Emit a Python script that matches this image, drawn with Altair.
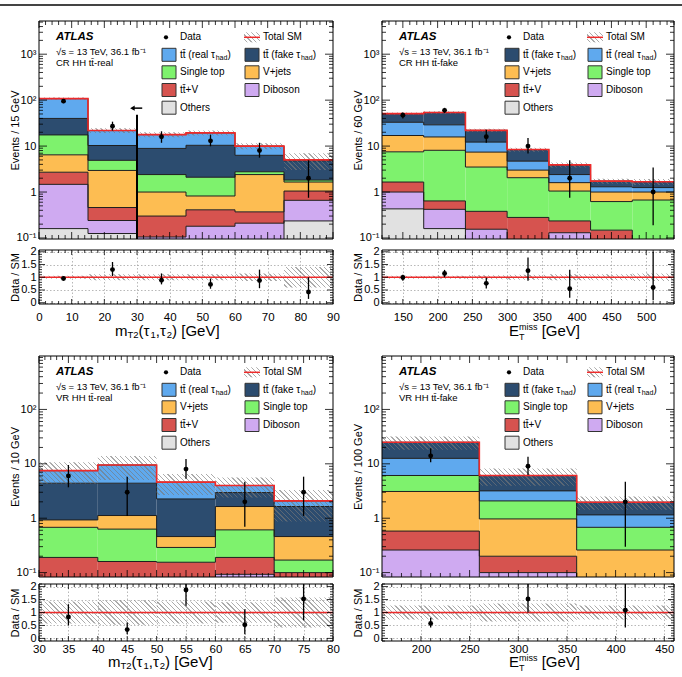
import altair as alt
import numpy as np
import pandas as pd

FONT = "Liberation Sans"
RED = "#ee2a2a"
OUTLINE = "#1e1e1e"
HATCH_ON = "rgba(120,120,120,0.62)"
HATCH_OFF = "rgba(120,120,120,0)"

KEYS = ["ttreal", "ttfake", "singletop", "vjets", "ttv", "diboson", "others"]
COLORS = ["#5fa9ee", "#2c4c6f", "#7ef26d", "#fdbd52", "#d6534f", "#cfaaf1", "#e1e1e1"]
COLOR_MAP = dict(zip(KEYS, COLORS))
LABELS = {
    "ttreal": [("tt\u0304 (real \u03c4", 10, 0), ("had", 7, 3), (")", 10, 0)],
    "ttfake": [("tt\u0304 (fake \u03c4", 10, 0), ("had", 7, 3), (")", 10, 0)],
    "singletop": [("Single top", 10, 0)],
    "vjets": [("V+jets", 10, 0)],
    "ttv": [("tt\u0304+V", 10, 0)],
    "diboson": [("Diboson", 10, 0)],
    "others": [("Others", 10, 0)],
}

# ---------------- Panel A: CR HH tt-real, mT2 ----------------
A_edges = [0, 15, 30, 45, 60, 75, 90]
A_others = [0.16, 0.125, 0.05, 0.05, 0.05, 0.235]
A_diboson = [1.31, 0.115, 0.055, 0.13, 0.16, 0.425]
A_ttv = [1.23, 0.22, 0.195, 0.23, 0.16, 0.39]
A_vjets = [3.75, 2.49, 0.70, 0.41, 2.03, 0.60]
A_singletop = [11.05, 1.95, 1.4, 1.28, 0.36, 0.17]
A_ttfake = [22.5, 5.4, 6.5, 8.3, 3.54, 2.98]
A_ttreal = [68, 11.5, 8.9, 9.0, 3.7, 0.2]
A_data = [95, 27, 16, 13, 8, 2]
A_data_lo = [86, 21.8, 11.8, 9.9, 5.6, 0.75]
A_data_hi = [105, 34, 21, 17.8, 11.8, 4.9]
A_unc = [0.06, 0.12, 0.12, 0.12, 0.15, 0.4]
A_ratio = [0.95, 1.3, 0.88, 0.72, 0.87, 0.42]
A_ratio_lo = [0.88, 1.05, 0.72, 0.55, 0.57, 0.15]
A_ratio_hi = [1.02, 1.6, 1.15, 0.95, 1.3, 1.0]

# ---------------- Panel B: CR HH tt-fake, ETmiss ----------------
B_edges = [120, 180, 240, 300, 360, 420, 480, 540]
B_others = [0.43, 0.16, 0.05, 0.03, 0.03, 0.03, 0.03]
B_diboson = [0.57, 0.26, 0.105, 0.03, 0.10, 0.03, 0.02]
B_ttv = [0.65, 0.22, 0.225, 0.22, 0.105, 0.088, 0.02]
B_singletop = [5.85, 7.46, 3.12, 1.77, 0.815, 0.472, 0.6]
B_vjets = [9.5, 7.7, 3.9, 0.95, 0.55, 0.38, 0.33]
B_ttreal = [16, 13.2, 4.8, 1.7, 0.8, 0.3, 0.25]
B_ttfake = [18, 25, 9.8, 3.7, 1.5, 0.43, 0.43]
B_data = [47, 60, 16, 10, 2, np.nan, 1]
B_data_lo = [40, 53, 11.8, 6.9, 0.75, np.nan, 0.19]
B_data_hi = [54, 68, 22.8, 15, 4.9, np.nan, 3.4]
B_unc = [0.06, 0.06, 0.08, 0.1, 0.12, 0.12, 0.15]
B_ratio = [0.99, 1.15, 0.76, 1.26, 0.55, np.nan, 0.6]
B_ratio_lo = [0.86, 1.0, 0.56, 0.86, 0.2, np.nan, 0.1]
B_ratio_hi = [1.1, 1.29, 0.98, 1.78, 1.29, np.nan, 2.0]

# ---------------- Panel C: VR HH tt-real, mT2 ----------------
C_edges = [30, 40, 50, 60, 70, 80]
C_others = [0.02, 0.02, 0.02, 0.02, 0.02]
C_diboson = [0.01, 0.01, 0.01, 0.073, 0.01]
C_ttv = [0.16, 0.13, 0.125, 0.097, 0.07]
C_singletop = [0.49, 0.47, 0.135, 0.42, 0.07]
C_vjets = [0.25, 0.49, 0.17, 1.03, 0.29]
C_ttfake = [3.47, 3.28, 1.8, 1.32, 1.18]
C_ttreal = [3.1, 5.1, 2.34, 1.04, 0.44]
C_data = [6, 3, 8, 2, 3]
C_data_lo = [3.7, 1.1, 5.3, 0.7, 1.1]
C_data_hi = [9.5, 5.8, 12.3, 4.7, 5.8]
C_unc = [0.42, 0.47, 0.42, 0.4, 0.58]
C_ratio = [0.83, 0.34, 1.87, 0.53, 1.52]
C_ratio_lo = [0.5, 0.16, 1.26, 0.16, 0.7]
C_ratio_hi = [1.32, 0.61, 2.3, 1.13, 2.3]

# ---------------- Panel D: VR HH tt-fake, ETmiss ----------------
D_edges = [160, 260, 360, 460]
D_others = [0.02, 0.02, 0.02]
D_diboson = [0.24, 0.08, 0.01]
D_ttv = [0.32, 0.10, 0.02]
D_vjets = [2.52, 0.77, 0.21]
D_singletop = [3.0, 1.11, 0.42]
D_ttreal = [6.5, 1.1, 0.47]
D_ttfake = [12.3, 2.92, 0.82]
D_data = [14, 9, 2]
D_data_lo = [10.7, 6.2, 0.3]
D_data_hi = [19.3, 13.5, 4.7]
D_unc = [0.27, 0.35, 0.27]
D_ratio = [0.58, 1.52, 1.09]
D_ratio_lo = [0.42, 1.0, 0.42]
D_ratio_hi = [0.8, 2.3, 2.3]

XT_MT2 = [("m", 15, 0, True), ("T2", 9.5, 4, True), ("(\u03c4", 15, 0, True), ("1", 9.5, 4, True),
          (",\u03c4", 15, 0, True), ("2", 9.5, 4, True), (") [GeV]", 15, 0, True)]
XT_MET = [("E", 15, 0, True), ("T", 9, 5.5, False), ("miss", 9, -4, True), (" [GeV]", 15, 0, True)]

ONE = pd.DataFrame({"k": [0]})

CHAR_W = {'a': .556, 'b': .556, 'd': .556, 'e': .556, 'f': .278, 'g': .556, 'h': .556, 'i': .222,
          'k': .5, 'l': .222, 'm': .833, 'n': .556, 'o': .556, 'p': .556, 'r': .333, 's': .5, 't': .278,
          'u': .556, 'v': .5, 'x': .5, 'y': .5, 'A': .667, 'C': .722, 'D': .722, 'E': .667, 'G': .778,
          'H': .722, 'M': .833, 'O': .778, 'R': .722, 'S': .667, 'T': .611, 'V': .667, 'L': .556,
          ' ': .278, '(': .333, ')': .333, '[': .278, ']': .278, ',': .278, '.': .278, '+': .584,
          '-': .333, '/': .278, '=': .584, '\u03c4': .46, '\u0304': 0.0, 'j': .222}


def text_width(s, size):
    return size * sum(CHAR_W.get(ch, 0.556) for ch in s)


def hatch(w, h, period=3.4, lw=0.9):
    """diagonal hatch as a striped linear gradient for a w x h pixel box"""
    w = max(float(w), 1.0)
    h = max(float(h), 1.0)
    k = (w + h) / (w * w + h * h)
    L = w + h
    dt = period * np.sqrt(2) / L
    dl = lw * np.sqrt(2) / L
    stops = [alt.GradientStop(color=HATCH_OFF, offset=0)]
    t = dt / 2
    while t + dl < 1 and len(stops) < 600:
        a, b = round(t, 5), round(t + dl, 5)
        stops += [alt.GradientStop(color=HATCH_OFF, offset=a), alt.GradientStop(color=HATCH_ON, offset=a),
                  alt.GradientStop(color=HATCH_ON, offset=b), alt.GradientStop(color=HATCH_OFF, offset=b)]
        t += dt
    stops.append(alt.GradientStop(color=HATCH_OFF, offset=1))
    return alt.LinearGradient(gradient="linear", stops=stops, x1=0, y1=1,
                              x2=round(k * w, 5), y2=round(1 - k * h, 5))


def vtext(x, y, s, size, weight="normal", style="normal", align="left"):
    return alt.Chart(ONE).mark_text(
        align=align, baseline="middle", fontSize=size, fontWeight=weight, fontStyle=style,
        font=FONT, color="black"
    ).encode(x=alt.value(x), y=alt.value(y), text=alt.value(s))


def vrect(x0, x1, y0, y1, fill, opacity=1.0, stroke="", sw=0):
    kw = dict(fill=fill, opacity=opacity)
    if stroke:
        kw.update(stroke=stroke, strokeWidth=sw)
    return alt.Chart(ONE).mark_rect(**kw).encode(
        x=alt.value(x0), x2=alt.value(x1), y=alt.value(y0), y2=alt.value(y1))


def hrule(x0, x1, y, color, sw):
    return alt.Chart(ONE).mark_rule(color=color, strokeWidth=sw).encode(
        x=alt.value(x0), x2=alt.value(x1), y=alt.value(y))


def pieces(x, y, parts):
    out = []
    cx = x
    for part in parts:
        txt, size, dy = part[0], part[1], part[2]
        adv = part[3] if len(part) > 3 else True
        stripped = txt.lstrip(" ")
        cx += text_width(txt[:len(txt) - len(stripped)], size)
        out.append(vtext(cx, y + dy, stripped, size))
        if adv:
            cx += text_width(stripped, size)
    return out


def frame(W, H):
    return alt.Chart(ONE).mark_rect(fillOpacity=0, stroke="black", strokeWidth=1).encode(
        x=alt.value(0), x2=alt.value(W), y=alt.value(0), y2=alt.value(H))


def tick_layer(vals, scale, axis, orient, L, W, H):
    df = pd.DataFrame({"v": list(vals)})
    if orient in ("left", "right"):
        x0 = 0 if orient == "left" else W - L
        enc = dict(y=alt.Y("v:Q", scale=scale, axis=axis), x=alt.value(x0), x2=alt.value(x0 + L))
    else:
        y0 = H if orient == "bottom" else 0
        y1 = H - L if orient == "bottom" else L
        enc = dict(x=alt.X("v:Q", scale=scale, axis=axis), y=alt.value(y0), y2=alt.value(y1))
    return alt.Chart(df).mark_rule(color="black", strokeWidth=0.8).encode(**enc)


def log_ticks(lo, hi):
    major, minor = [], []
    for e in range(-3, 5):
        for m in range(1, 10):
            v = m * 10.0 ** e
            if lo <= v <= hi:
                (major if m == 1 else minor).append(v)
    return major, minor


def lin_ticks(lo, hi, step):
    k0 = int(np.ceil(lo / step - 1e-9))
    k1 = int(np.floor(hi / step + 1e-9))
    return [round(k * step, 6) for k in range(k0, k1 + 1)]


LEG_ROWS = [16.3, 33.8, 51.3, 69.0, 86.7]
LEG_SYM = [130, 213]
LEG_TXT = [141, 224]


def legend_layers(P):
    L = []
    entries = ["data", "total"] + P["legend"]
    for idx, e in enumerate(entries):
        r, c = divmod(idx, 2)
        y = LEG_ROWS[r]
        xs_ = LEG_SYM[c]
        xt = LEG_TXT[c]
        if e == "data":
            L.append(alt.Chart(ONE).mark_circle(size=18, color="black", opacity=1).encode(
                x=alt.value(xs_ - 3), y=alt.value(y)))
            L.append(vtext(xt, y, "Data", 10))
        elif e == "total":
            L.append(vrect(xs_ - 8, xs_ + 8, y - 5, y + 5, hatch(16, 10)))
            L.append(hrule(xs_ - 8, xs_ + 8, y, RED, 1.5))
            L.append(vtext(xt, y, "Total SM", 10))
        else:
            L.append(vrect(xs_ - 7, xs_ + 7, y - 6.5, y + 6.5, COLOR_MAP[e], stroke="#333333", sw=1))
            L += pieces(xt, y, LABELS[e])
    return L


LOG_LABELS = ("datum.value < 0.5 ? '10\u207b\u00b9' : datum.value < 5 ? '1' : datum.value < 50 ? '10' : "
              "datum.value < 500 ? '10\u00b2' : '10\u00b3'")


def band_layers(edges, lo, hi, X, Y, xdom, W, ypix):
    out = []
    for i in range(len(edges) - 1):
        w = (edges[i + 1] - edges[i]) / (xdom[1] - xdom[0]) * W
        h = ypix(lo[i], hi[i])
        df = pd.DataFrame({"x": [edges[i]], "x2": [edges[i + 1]], "lo": [lo[i]], "hi": [hi[i]]})
        out.append(alt.Chart(df).mark_rect(fill=hatch(w, h), clip=True).encode(
            x=X("x:Q"), x2="x2:Q", y=Y("lo:Q"), y2="hi:Q"))
    return out


def main_chart(P, toprow, right):
    W, H = P["W"], P["H"]
    xs = alt.Scale(domain=P["xdomain"], nice=False, zero=False)
    ys = alt.Scale(type="log", domain=P["ydomain"], nice=False)
    edges = P["edges"]
    n = len(edges) - 1
    rect_rows, line_rows = [], []
    cum = np.zeros(n)
    for key, vals in P["stack"]:
        top = cum + np.asarray(vals, float)
        for i in range(n):
            rect_rows.append({"comp": key, "x": edges[i], "x2": edges[i + 1],
                              "y": max(cum[i], 1e-4), "y2": top[i]})
            line_rows.append({"comp": key, "x": edges[i], "y": top[i]})
        line_rows.append({"comp": key, "x": edges[n], "y": top[n - 1]})
        cum = top
    total = cum

    ymaj, ymin = log_ticks(*P["ydomain"])
    YA = alt.Axis(values=ymaj, labelExpr=LOG_LABELS, tickSize=0, domain=False, grid=False,
                  labelPadding=3, labelFontSize=11, labelOverlap=False, title=P["ytitle"],
                  titleFontSize=11, titlePadding=1, minExtent=18, maxExtent=18,
                  titleFontWeight="normal", labelColor="black", titleColor="black",
                  labelFont=FONT, titleFont=FONT)
    X = lambda f: alt.X(f, scale=xs, axis=None)
    Y = lambda f: alt.Y(f, scale=ys, axis=YA)

    layers = []
    layers.append(alt.Chart(pd.DataFrame(rect_rows)).mark_rect(clip=True).encode(
        x=X("x:Q"), x2="x2:Q", y=Y("y:Q"), y2="y2:Q",
        color=alt.Color("comp:N", scale=alt.Scale(domain=KEYS, range=COLORS), legend=None)))

    layers.append(alt.Chart(pd.DataFrame(line_rows)).mark_line(
        interpolate="step-after", clip=True, color=OUTLINE, strokeWidth=1).encode(
        x=X("x:Q"), y=Y("y:Q"), detail="comp:N"))

    unc = np.asarray(P["unc"])
    ld0, ld1 = np.log10(P["ydomain"][0]), np.log10(P["ydomain"][1])
    ypix = lambda a, b: (np.log10(b) - np.log10(a)) / (ld1 - ld0) * H
    layers += band_layers(edges, total * (1 - unc), total * (1 + unc), X, Y, P["xdomain"], W, ypix)

    tot = pd.DataFrame({"x": list(edges), "y": list(total) + [total[-1]]})
    layers.append(alt.Chart(tot).mark_line(interpolate="step-after", clip=True, color=RED,
                                           strokeWidth=1.6).encode(x=X("x:Q"), y=Y("y:Q")))

    centers = [(edges[i] + edges[i + 1]) / 2 for i in range(n)]
    dd = pd.DataFrame({"x": centers, "v": P["data"], "lo": P["data_lo"], "hi": P["data_hi"]}).dropna()
    layers.append(alt.Chart(dd).mark_rule(color="black", strokeWidth=1.3, clip=True).encode(
        x=X("x:Q"), y=Y("lo:Q"), y2="hi:Q"))
    layers.append(alt.Chart(dd).mark_circle(size=24, color="black", opacity=1, clip=True).encode(
        x=X("x:Q"), y=Y("v:Q")))

    if "cut" in P:
        c = P["cut"]
        cdf = pd.DataFrame({"x": [c["x"]], "y": [P["ydomain"][0]], "y2": [c["top"]]})
        layers.append(alt.Chart(cdf).mark_rule(color="black", strokeWidth=2, clip=True).encode(
            x=X("x:Q"), y=Y("y:Q"), y2="y2:Q"))
        adf = pd.DataFrame({"x": [c["ax"][0]], "x2": [c["ax"][1]], "y": [c["ay"]]})
        layers.append(alt.Chart(adf).mark_rule(color="black", strokeWidth=1.5).encode(
            x=X("x:Q"), x2="x2:Q", y=Y("y:Q")))
        layers.append(alt.Chart(adf).mark_point(shape="triangle-left", filled=True, size=28,
                                                color="black", opacity=1).encode(
            x=X("x:Q"), y=Y("y:Q")))

    xmaj = P["xmajor"]
    xmin = [v for v in lin_ticks(P["xdomain"][0], P["xdomain"][1], P["xminor_step"]) if v not in xmaj]
    layers += [tick_layer(ymaj, ys, YA, "left", 8, W, H), tick_layer(ymin, ys, YA, "left", 4, W, H),
               tick_layer(ymaj, ys, YA, "right", 8, W, H), tick_layer(ymin, ys, YA, "right", 4, W, H),
               tick_layer(xmaj, xs, None, "bottom", 7, W, H), tick_layer(xmin, xs, None, "bottom", 4, W, H),
               tick_layer(xmaj, xs, None, "top", 7, W, H), tick_layer(xmin, xs, None, "top", 4, W, H)]

    layers.append(vtext(17, 16.3, "ATLAS", 11.5, weight="bold", style="italic"))
    layers.append(vtext(17, 30.7, "\u221as = 13 TeV, 36.1 fb\u207b\u00b9", 9.5))
    layers.append(vtext(17, 41.5, P["region"], 9.5))
    layers += legend_layers(P)
    layers.append(frame(W, H))

    if toprow:
        # page rule along the top of the figure (a filled rect: its bounds are exact)
        layers.append(vrect(-39, W + (8 if right else 10), -17, -15, "#444444"))
    else:
        # white layout spacers keeping both rows aligned
        layers.append(vrect(-39, -38, H / 2, H / 2 + 1, "white"))
        if not right:
            layers.append(vrect(W + 9, W + 10, H / 2, H / 2 + 1, "white"))
    return alt.layer(*layers).properties(width=W, height=H)


def ratio_chart(P):
    W, RH = P["W"], P["RH"]
    xs = alt.Scale(domain=P["xdomain"], nice=False, zero=False)
    rys = alt.Scale(domain=P["rdomain"], nice=False, zero=False)
    edges = P["edges"]
    n = len(edges) - 1
    unc = np.asarray(P["unc"])
    XA = alt.Axis(values=P["xmajor"], format="d", tickSize=0, domain=False, grid=True,
                  gridDash=[1.5, 2], gridColor="#9a9a9a", gridWidth=0.7, labelPadding=P["labpad"],
                  labelFontSize=11.5, labelFlush=False, labelOverlap=False, title=None,
                  labelFont=FONT, labelColor="black")
    YA = alt.Axis(values=[0, 0.5, 1, 1.5, 2], format="~g", tickSize=0, domain=False, grid=True,
                  gridDash=[1.5, 2], gridColor="#9a9a9a", gridWidth=0.7, labelPadding=3,
                  labelFontSize=11, labelOverlap=False, title="Data / SM", titleFontSize=11,
                  titlePadding=1, minExtent=18, maxExtent=18, titleFontWeight="normal",
                  labelColor="black", titleColor="black", labelFont=FONT, titleFont=FONT)
    X = lambda f: alt.X(f, scale=xs, axis=XA)
    Y = lambda f: alt.Y(f, scale=rys, axis=YA)
    r0, r1 = P["rdomain"]
    ypix = lambda a, b: (b - a) / (r1 - r0) * RH
    layers = band_layers(edges, 1 - unc, 1 + unc, X, Y, P["xdomain"], W, ypix)
    layers.append(alt.Chart(pd.DataFrame({"y": [1.0]})).mark_rule(color=RED, strokeWidth=1.5).encode(
        y=Y("y:Q"), x=alt.value(0), x2=alt.value(W)))
    centers = [(edges[i] + edges[i + 1]) / 2 for i in range(n)]
    rd = pd.DataFrame({"x": centers, "v": P["ratio"], "lo": P["ratio_lo"], "hi": P["ratio_hi"]}).dropna()
    layers.append(alt.Chart(rd).mark_rule(color="black", strokeWidth=1.3, clip=True).encode(
        x=X("x:Q"), y=Y("lo:Q"), y2="hi:Q"))
    layers.append(alt.Chart(rd).mark_circle(size=24, color="black", opacity=1, clip=True).encode(
        x=X("x:Q"), y=Y("v:Q")))
    xmaj = P["xmajor"]
    xmin = [v for v in lin_ticks(P["xdomain"][0], P["xdomain"][1], P["xminor_step"]) if v not in xmaj]
    ymaj = [0, 0.5, 1, 1.5, 2]
    ymin = [v for v in lin_ticks(r0, r1, 0.1) if v not in ymaj]
    layers += [tick_layer(ymaj, rys, YA, "left", 6, W, RH), tick_layer(ymin, rys, YA, "left", 3, W, RH),
               tick_layer(ymaj, rys, YA, "right", 6, W, RH), tick_layer(ymin, rys, YA, "right", 3, W, RH),
               tick_layer(xmaj, xs, XA, "bottom", 5, W, RH), tick_layer(xmin, xs, XA, "bottom", 3, W, RH),
               tick_layer(xmaj, xs, XA, "top", 5, W, RH), tick_layer(xmin, xs, XA, "top", 3, W, RH)]
    layers += pieces(P["xt_x"], P["xt_y"], P["xtitle"])
    layers.append(frame(W, RH))
    return alt.layer(*layers).properties(width=W, height=RH)


def stack(prefix, order):
    g = globals()
    return [(k, g[prefix + "_" + k]) for k in order]


def panel(prefix, **kw):
    g = globals()
    P = dict(edges=g[prefix + "_edges"], data=g[prefix + "_data"], data_lo=g[prefix + "_data_lo"],
             data_hi=g[prefix + "_data_hi"], unc=g[prefix + "_unc"], ratio=g[prefix + "_ratio"],
             ratio_lo=g[prefix + "_ratio_lo"], ratio_hi=g[prefix + "_ratio_hi"])
    P.update(kw)
    return P


PA = panel("A", stack=stack("A", ["others", "diboson", "ttv", "vjets", "singletop", "ttfake", "ttreal"]),
           legend=["ttreal", "ttfake", "singletop", "vjets", "ttv", "diboson", "others"],
           W=294, H=218, RH=54, xdomain=[0, 90], ydomain=[0.095, 5280], rdomain=[-0.05, 2.07],
           xmajor=list(range(0, 91, 10)), xminor_step=2, ytitle="Events / 15 GeV",
           region="CR HH tt\u0304-real", xtitle=XT_MT2, xt_x=76, xt_y=54 + 27, labpad=7,
           cut=dict(x=30, top=48, ay=67, ax=[28.6, 31.6]))
PB = panel("B", stack=stack("B", ["others", "diboson", "ttv", "singletop", "vjets", "ttreal", "ttfake"]),
           legend=["ttfake", "ttreal", "vjets", "singletop", "ttv", "diboson", "others"],
           W=292, H=218, RH=54, xdomain=[120, 540], ydomain=[0.095, 5280], rdomain=[-0.05, 2.07],
           xmajor=list(range(150, 501, 50)), xminor_step=10, ytitle="Events / 60 GeV",
           region="CR HH tt\u0304-fake", xtitle=XT_MET, xt_x=127, xt_y=54 + 27, labpad=7)
PC = panel("C", stack=stack("C", ["others", "diboson", "ttv", "singletop", "vjets", "ttfake", "ttreal"]),
           legend=["ttreal", "ttfake", "vjets", "singletop", "ttv", "diboson", "others"],
           W=294, H=221, RH=57, xdomain=[30, 80], ydomain=[0.083, 960], rdomain=[-0.1, 2.1],
           xmajor=list(range(30, 81, 5)), xminor_step=1, ytitle="Events / 10 GeV",
           region="VR HH tt\u0304-real", xtitle=XT_MT2, xt_x=69, xt_y=57 + 21, labpad=2)
PD = panel("D", stack=stack("D", ["others", "diboson", "ttv", "vjets", "singletop", "ttreal", "ttfake"]),
           legend=["ttfake", "ttreal", "singletop", "vjets", "ttv", "diboson", "others"],
           W=292, H=221, RH=57, xdomain=[160, 460], ydomain=[0.083, 960], rdomain=[-0.1, 2.1],
           xmajor=list(range(200, 451, 50)), xminor_step=10, ytitle="Events / 100 GeV",
           region="VR HH tt\u0304-fake", xtitle=XT_MET, xt_x=127, xt_y=57 + 21, labpad=2)


def column(P, toprow, right):
    return alt.vconcat(main_chart(P, toprow, right), ratio_chart(P), spacing=11 if toprow else 7,
                       bounds="flush")


row1 = alt.hconcat(column(PA, True, False), column(PB, True, True), spacing=0)
row2 = alt.hconcat(column(PC, False, False), column(PD, False, True), spacing=0)

chart = alt.vconcat(row1, row2, spacing=13).properties(
    padding={"left": 0, "right": 0, "top": 4, "bottom": 0}
).configure(font=FONT).configure_view(stroke=None)

chart.save("out.html", embed_options={"renderer": "svg", "actions": False})
